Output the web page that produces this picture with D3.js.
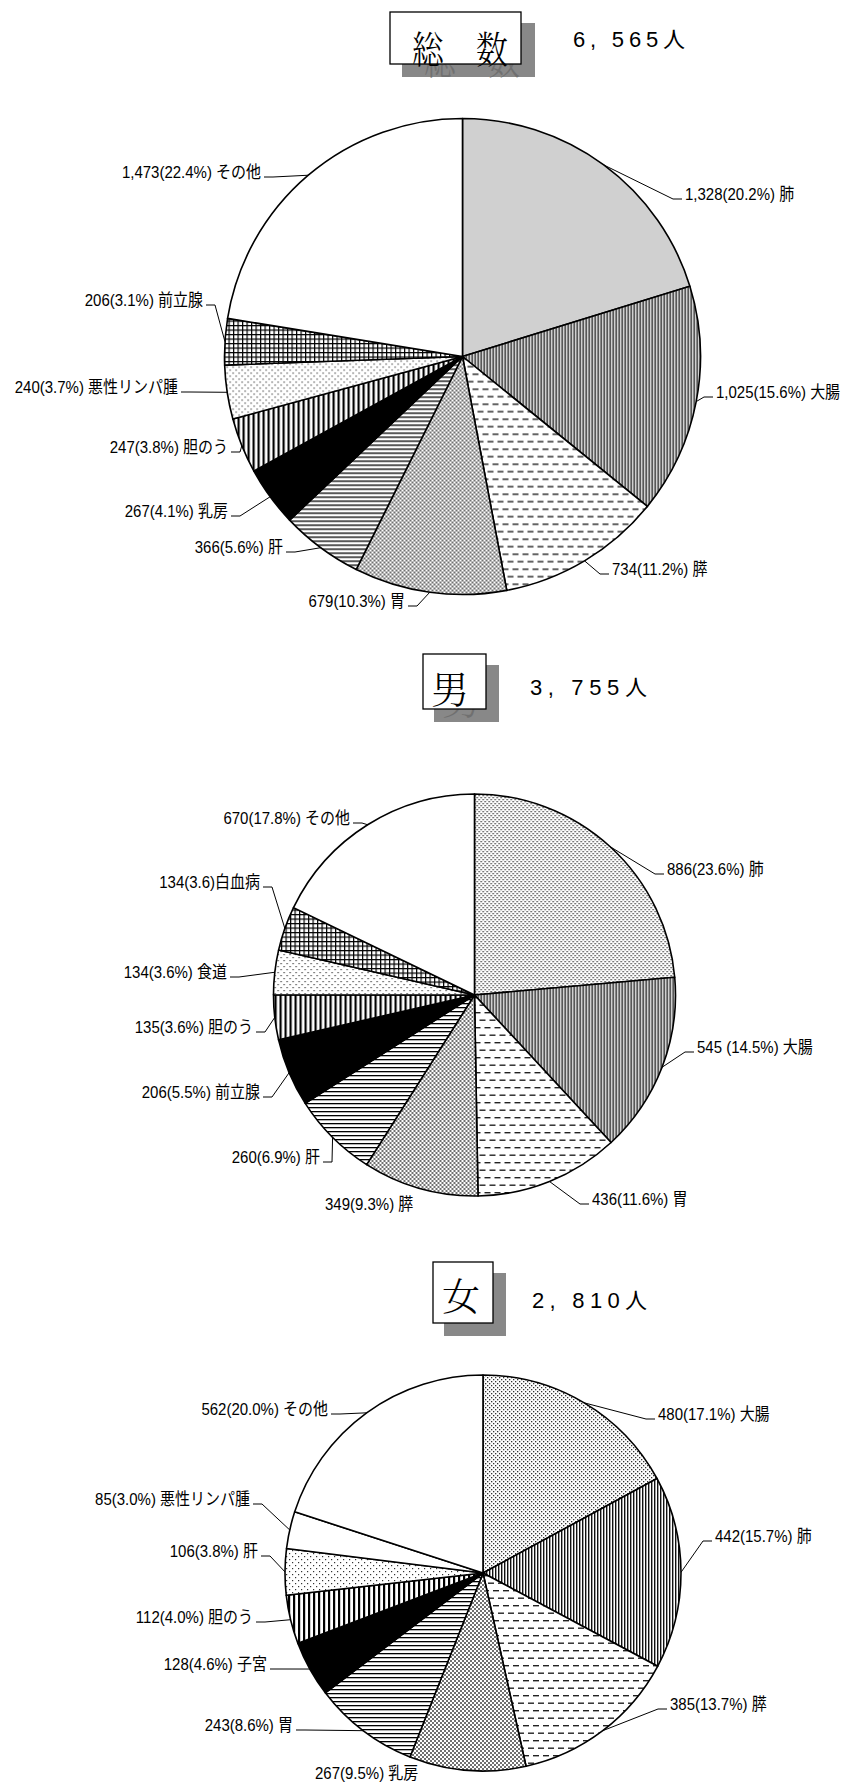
<!DOCTYPE html>
<html><head><meta charset="utf-8">
<script src="https://cdn.jsdelivr.net/npm/d3@7"></script>
<style>body{margin:0;background:#fff} svg{display:block}</style>
</head><body>
<svg id="c" width="847" height="1784"></svg>
<script>
// ---------- data ----------
const titles = ["総　数", "男", "女"];
const totals = ["6, 565人", "3, 755人", "2, 810人"];

const sites1 = ["肺","大腸","膵","胃","肝","乳房","胆のう","悪性リンパ腫","前立腺","その他"];
const values1 = [1328,1025,734,679,366,267,247,240,206,1473];
const labels1 = ["1,328(20.2%) 肺","1,025(15.6%) 大腸","734(11.2%) 膵","679(10.3%) 胃","366(5.6%) 肝","267(4.1%) 乳房","247(3.8%) 胆のう","240(3.7%) 悪性リンパ腫","206(3.1%) 前立腺","1,473(22.4%) その他"];

const sites2 = ["肺","大腸","胃","膵","肝","前立腺","胆のう","食道","白血病","その他"];
const values2 = [886,545,436,349,260,206,135,134,134,670];
const labels2 = ["886(23.6%) 肺","545 (14.5%) 大腸","436(11.6%) 胃","349(9.3%) 膵","260(6.9%) 肝","206(5.5%) 前立腺","135(3.6%) 胆のう","134(3.6%) 食道","134(3.6)白血病","670(17.8%) その他"];

const sites3 = ["大腸","肺","膵","乳房","胃","子宮","胆のう","肝","悪性リンパ腫","その他"];
const values3 = [480,442,385,267,243,128,112,106,85,562];
const labels3 = ["480(17.1%) 大腸","442(15.7%) 肺","385(13.7%) 膵","267(9.5%) 乳房","243(8.6%) 胃","128(4.6%) 子宮","112(4.0%) 胆のう","106(3.8%) 肝","85(3.0%) 悪性リンパ腫","562(20.0%) その他"];

// ---------- styles / layout ----------
const fills1 = ["dotsA","vdense","dashes","check","hlines","#000","vlines","sparse","grid","#fff"];
const fills2 = ["dotsB","vdense","dashes","check","hlines","#000","vlines","sparse","grid","#fff"];
const fills3 = ["dotsB","vdense","dashes","check","hlines","#000","vlines","sparse","#fff","#fff"];

// [side, x, baseline]  R: text starts at x, L: text ends at x, N: no leader line
const place1 = [["R",685,200],["R",716,398],["R",612,575],["L",405,607],["L",283,553],["L",228,517],["L",228,453],["L",178,393],["L",203,306],["L",261,178]];
const place2 = [["R",667,875],["R",697,1053],["R",592,1205],["N",325,1210],["L",320,1163],["L",260,1098],["L",253,1033],["L",227,978],["L",260,888],["L",350,824]];
const place3 = [["R",658,1420],["R",715,1542],["R",670,1710],["N",315,1779],["L",293,1731],["L",267,1670],["L",253,1623],["L",258,1557],["L",250,1505],["L",328,1415]];

const pies = [
  {values:values1, labels:labels1, fills:fills1, place:place1, cx:462.5, cy:356.5, rx:238, ry:238,
   box:[390,12,131,52], shadow:[12,11], tc:[460,46], tlen:96, shadowText:true, total:[573,47,112]},
  {values:values2, labels:labels2, fills:fills2, place:place2, cx:474.5, cy:995, rx:201, ry:201,
   box:[423,654,63,55], shadow:[11,11], tc:[450,686], tlen:0, shadowText:true, total:[530,695,117]},
  {values:values3, labels:labels3, fills:fills3, place:place3, cx:483, cy:1573, rx:198, ry:198,
   box:[433,1262,60,61], shadow:[11,11], tc:[461,1293], tlen:0, shadowText:false, total:[532,1308,115]}
];

const svg = d3.select("#c");
const defs = svg.append("defs");
function pat(id, w, h, draw){
  const p = defs.append("pattern").attr("id",id).attr("patternUnits","userSpaceOnUse").attr("width",w).attr("height",h);
  p.append("rect").attr("width",w).attr("height",h).attr("fill","#fff");
  draw(p);
}
pat("dotsA",2,2,p=>p.append("rect").attr("x",0).attr("y",0).attr("width",1).attr("height",1).attr("fill","#444"));
pat("dotsB",4,4,p=>{
  p.append("rect").attr("x",0).attr("y",0).attr("width",1.3).attr("height",1.3).attr("fill","#333");
  p.append("rect").attr("x",2).attr("y",2).attr("width",1.3).attr("height",1.3).attr("fill","#333");
});
pat("vdense",3,3,p=>p.append("rect").attr("x",0).attr("y",0).attr("width",1.4).attr("height",3).attr("fill","#111"));
pat("dashes",10,15,p=>{
  p.append("rect").attr("x",0).attr("y",2).attr("width",6).attr("height",1.4).attr("fill","#222");
  p.append("rect").attr("x",5).attr("y",9.5).attr("width",6).attr("height",1.4).attr("fill","#222");
  p.append("rect").attr("x",-5).attr("y",9.5).attr("width",6).attr("height",1.4).attr("fill","#222");
});
pat("check",4,4,p=>p.append("path").attr("d","M0,0L4,4M4,0L0,4M-1,3L1,5M3,-1L5,1M3,5L5,3M-1,1L1,-1").attr("stroke","#333").attr("stroke-width",0.7));
pat("hlines",4,4,p=>p.append("rect").attr("x",0).attr("y",0).attr("width",4).attr("height",1.3).attr("fill","#000"));
pat("vlines",5,5,p=>p.append("rect").attr("x",0).attr("y",0).attr("width",2.2).attr("height",5).attr("fill","#000"));
pat("sparse",6,6,p=>{
  p.append("rect").attr("x",1).attr("y",1).attr("width",1.2).attr("height",1.2).attr("fill","#333");
  p.append("rect").attr("x",4).attr("y",4).attr("width",1.2).attr("height",1.2).attr("fill","#333");
});
pat("grid",4.5,4.5,p=>{
  p.append("rect").attr("x",0).attr("y",0).attr("width",1.2).attr("height",4.5).attr("fill","#000");
  p.append("rect").attr("x",0).attr("y",0).attr("width",4.5).attr("height",1.2).attr("fill","#000");
});

const labelFont = "'Liberation Sans', Arial, 'Noto Sans CJK JP', sans-serif";
const titleFont = "'Noto Serif CJK JP', 'Noto Sans CJK JP', serif";

pies.forEach((P, pi) => {
  const g = svg.append("g");
  // title box with shadow
  const [bx,by,bw,bh] = P.box;
  g.append("rect").attr("x",bx+P.shadow[0]).attr("y",by+P.shadow[1]).attr("width",bw+2).attr("height",bh+2).attr("fill","#888");
  if (P.shadowText) {
    const st = g.append("text").attr("x",P.tc[0]+P.shadow[0]).attr("y",P.tc[1]+P.shadow[1])
      .attr("text-anchor","middle").attr("dominant-baseline","central")
      .attr("font-family",titleFont).attr("font-weight",300).attr("font-size",38).attr("fill","#707070").text(titles[pi]);
    if (P.tlen) st.attr("textLength",P.tlen).attr("lengthAdjust","spacingAndGlyphs");
  }
  g.append("rect").attr("x",bx).attr("y",by).attr("width",bw).attr("height",bh).attr("fill","#fff").attr("stroke","#000").attr("stroke-width",1.3);
  const tt = g.append("text").attr("x",P.tc[0]).attr("y",P.tc[1])
    .attr("text-anchor","middle").attr("dominant-baseline","central")
    .attr("font-family",titleFont).attr("font-weight",300).attr("font-size",38).attr("fill","#000").text(titles[pi]);
  if (P.tlen) tt.attr("textLength",P.tlen).attr("lengthAdjust","spacingAndGlyphs");
  g.append("text").attr("x",P.total[0]).attr("y",P.total[1]).attr("font-family",labelFont).attr("font-size",22)
    .attr("textLength",P.total[2]).attr("lengthAdjust","spacing").attr("fill","#000").text(totals[pi]);

  // pie
  const arcs = d3.pie().sort(null).value(d=>d)(P.values);
  const arc = d3.arc().innerRadius(0).outerRadius(P.rx);
  const sg = g.append("g").attr("transform",`translate(${P.cx},${P.cy}) scale(1,${P.ry/P.rx})`);
  sg.selectAll("path").data(arcs).join("path")
    .attr("d",arc)
    .attr("fill",(d,i)=> P.fills[i].startsWith("#") ? P.fills[i] : `url(#${P.fills[i]})`)
    .attr("stroke","#000").attr("stroke-width",1.6).attr("stroke-linejoin","round")
    .attr("vector-effect","non-scaling-stroke");

  // labels + leader lines
  const lg = g.append("g");
  arcs.forEach((d,i) => {
    const [side,x,y] = P.place[i];
    const a = (d.startAngle + d.endAngle)/2;
    const ax = P.cx + P.rx*Math.sin(a), ay = P.cy - P.ry*Math.cos(a);
    if (side !== "N") {
      const dir = side === "R" ? -1 : 1;
      const pts = [[ax,ay],[x + dir*12, y-1],[x + dir*3, y-1]];
      lg.append("path").attr("d", d3.line()(pts)).attr("fill","none").attr("stroke","#000").attr("stroke-width",1);
    }
    lg.append("text").attr("x", 0).attr("y", 0)
      .attr("transform", `translate(${x},${y}) scale(${15/17},1)`)
      .attr("text-anchor", side==="L" ? "end" : "start")
      .attr("font-family",labelFont).attr("font-size",17).attr("fill","#000").text(P.labels[i]);
  });
});
</script>
</body></html>
